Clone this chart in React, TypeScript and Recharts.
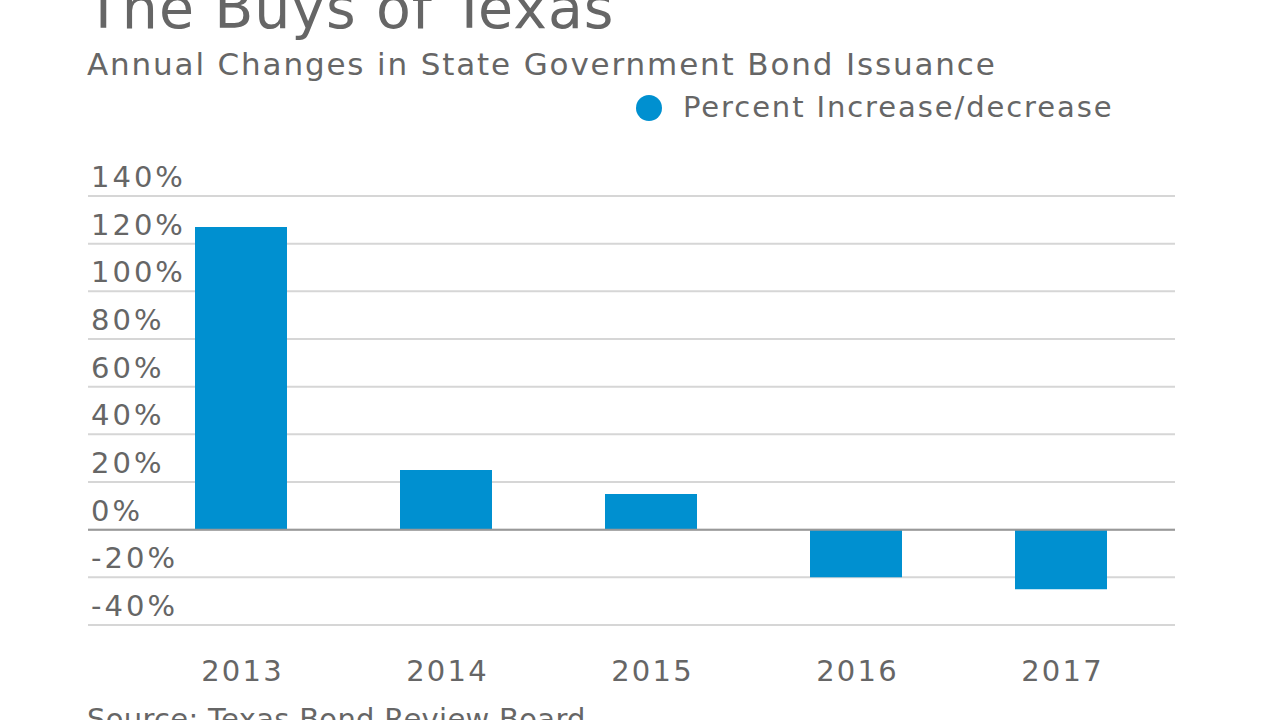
import { BarChart, Bar, XAxis, YAxis, CartesianGrid, ReferenceLine } from 'recharts'

const years = ['2013', '2014', '2015', '2016', '2017']
const percentChange = [127, 25, 15, -20, -25]
const yTicks = [-40, -20, 0, 20, 40, 60, 80, 100, 120, 140]

const data = years.map((year, i) => ({ year, value: percentChange[i] }))

const BLUE = '#0090d0'
const TEXT = '#666666'
const FONT = '"DejaVu Sans", Verdana, sans-serif'

interface TickProps { x?: number; y?: number; payload?: { value: number | string } }

function YTick({ y, payload }: TickProps) {
  return (
    <text x={91} y={(y ?? 0) - 9} fill={TEXT} fontSize={29} fontFamily={FONT} letterSpacing={3} textAnchor="start">
      {payload?.value}%
    </text>
  )
}

function XTick({ x, y, payload }: TickProps) {
  return (
    <text x={(x ?? 0) + 2} y={(y ?? 0) + 48} fill={TEXT} fontSize={29} fontFamily={FONT} letterSpacing={2.2} textAnchor="middle">
      {payload?.value}
    </text>
  )
}

export default function App() {
  return (
    <div style={{ position: 'absolute', left: 0, top: 0, width: 1280, height: 720, background: '#fff', overflow: 'hidden', fontFamily: FONT }}>
      <div style={{ position: 'absolute', left: 86, top: -20, fontSize: 57, color: TEXT, whiteSpace: 'nowrap', lineHeight: 1, letterSpacing: 1 }}>
        The Buys of Texas
      </div>
      <div style={{ position: 'absolute', left: 87, top: 49, fontSize: 31, color: TEXT, whiteSpace: 'nowrap', lineHeight: 1, letterSpacing: 1.85 }}>
        Annual Changes in State Government Bond Issuance
      </div>
      <div style={{ position: 'absolute', left: 636, top: 93, display: 'flex', alignItems: 'center', whiteSpace: 'nowrap' }}>
        <span style={{ width: 26, height: 26, borderRadius: 13, background: BLUE, display: 'inline-block', marginRight: 21 }} />
        <span style={{ fontSize: 29, color: TEXT, lineHeight: 1, letterSpacing: 1.9 }}>Percent Increase/decrease</span>
      </div>
      <div style={{ position: 'absolute', left: 87, top: 705, fontSize: 29, color: TEXT, whiteSpace: 'nowrap', lineHeight: 1, letterSpacing: 0.3 }}>
        Source: Texas Bond Review Board
      </div>
      <div style={{ position: 'absolute', left: 0, top: 0 }}>
        <BarChart width={1280} height={720} data={data} margin={{ top: 196, right: 105, bottom: 65, left: 87 }}>
          <CartesianGrid vertical={false} stroke="#d6d6d6" strokeWidth={2} />
          <XAxis
            dataKey="year"
            height={30}
            axisLine={false}
            tickLine={false}
            padding={{ left: 50, right: 12 }}
            tick={<XTick />}
            interval={0}
          />
          <YAxis
            domain={[-40, 140]}
            ticks={yTicks}
            width={1}
            axisLine={false}
            tickLine={false}
            tick={<YTick />}
            interval={0}
          />
          <ReferenceLine y={0} stroke="#999" strokeWidth={2} />
          <Bar dataKey="value" fill={BLUE} barSize={92} isAnimationActive={false} />
        </BarChart>
      </div>
    </div>
  )
}
